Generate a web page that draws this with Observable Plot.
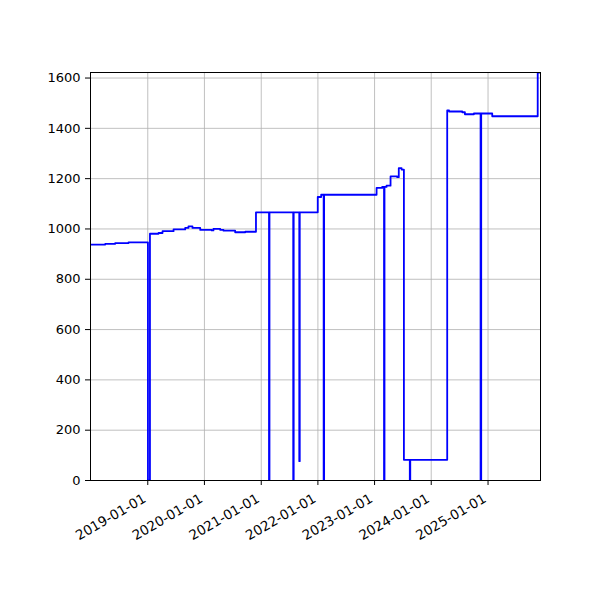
<!DOCTYPE html>
<html>
<head>
<meta charset="utf-8">
<script src="https://cdn.jsdelivr.net/npm/d3@7"></script>
<script src="https://cdn.jsdelivr.net/npm/@observablehq/plot@0.6"></script>
<style>
  html, body { margin: 0; padding: 0; background: #fff; }
  #chart { width: 600px; height: 600px; }
</style>
</head>
<body>
<div id="chart"></div>
<script>
const dates = [
  "2017-12-28", "2018-04-02", "2018-06-05", "2018-08-30",
  "2019-01-02", "2019-01-15", "2019-03-11", "2019-04-06", "2019-06-16",
  "2019-08-30", "2019-09-20", "2019-10-16", "2019-12-05",
  "2020-02-17", "2020-02-28", "2020-04-12", "2020-05-03", "2020-07-17",
  "2020-09-20", "2020-11-28",
  "2021-02-20", "2021-02-23", "2021-07-26", "2021-07-29", "2021-09-03", "2021-09-06",
  "2021-12-31", "2022-01-22", "2022-02-07", "2022-02-10",
  "2023-01-14", "2023-02-19", "2023-03-03", "2023-03-06", "2023-03-19",
  "2023-04-14", "2023-05-27", "2023-06-06", "2023-06-24", "2023-07-09",
  "2023-08-16", "2023-08-19",
  "2024-04-13", "2024-04-25", "2024-07-19", "2024-08-05", "2024-10-02",
  "2024-11-14", "2024-11-18",
  "2025-01-28", "2025-11-17", "2025-12-05"
];
const values = [
  938, 941, 944, 947,
  0, 981, 984, 991, 998,
  1004, 1010, 1004, 996,
  994, 1000, 996, 993, 987,
  989, 1066,
  0, 1066, 0, 1066, 77, 1066,
  1127, 1136, 0, 1136,
  1163, 1167, 0, 1167, 1172,
  1209, 1206, 1242, 1236, 82,
  0, 82,
  1471, 1467, 1464, 1456, 1459,
  0, 1459,
  1448, 1622, 1622
];
const xTickLabels = ["2019-01-01", "2020-01-01", "2021-01-01", "2022-01-01", "2023-01-01", "2024-01-01", "2025-01-01"];
const yTicks = [0, 200, 400, 600, 800, 1000, 1200, 1400, 1600];

const data = dates.map((d, i) => ({date: new Date(d + "T00:00:00Z"), value: values[i]}));
const xTicks = xTickLabels.map(d => new Date(d + "T00:00:00Z"));
const fmt = d3.utcFormat("%Y-%m-%d");

const chart = Plot.plot({
  width: 600,
  height: 600,
  marginLeft: 90,
  marginRight: 60,
  marginTop: 72,
  marginBottom: 120,
  style: {fontFamily: "DejaVu Sans", fontSize: "13px", color: "#000", background: "#fff"},
  x: {type: "utc", domain: [new Date("2017-12-28T00:00:00Z"), new Date("2025-12-05T00:00:00Z")]},
  y: {domain: [0, 1622]},
  marks: [
    Plot.gridX(xTicks, {stroke: "#b0b0b0", strokeOpacity: 1, strokeWidth: 0.8}),
    Plot.gridY(yTicks, {stroke: "#b0b0b0", strokeOpacity: 1, strokeWidth: 0.8}),
    Plot.line(data, {x: "date", y: "value", curve: "step-after", stroke: "#0000ff", strokeWidth: 1.8, clip: true}),
    Plot.frame({stroke: "#000", strokeWidth: 1}),
    Plot.axisY({ticks: yTicks, tickFormat: d => String(d), tickSize: 5, tickPadding: 5, label: null, fontSize: 13}),
    Plot.axisX({ticks: xTicks, tickFormat: () => "", tickSize: 5, label: null}),
    Plot.axisX({ticks: xTicks, tickFormat: fmt, tickRotate: -30, tickSize: 0, tickPadding: 13, label: null, fontSize: 13.5, dx: -3, dy: 4})
  ]
});
document.getElementById("chart").appendChild(chart);
</script>
</body>
</html>
